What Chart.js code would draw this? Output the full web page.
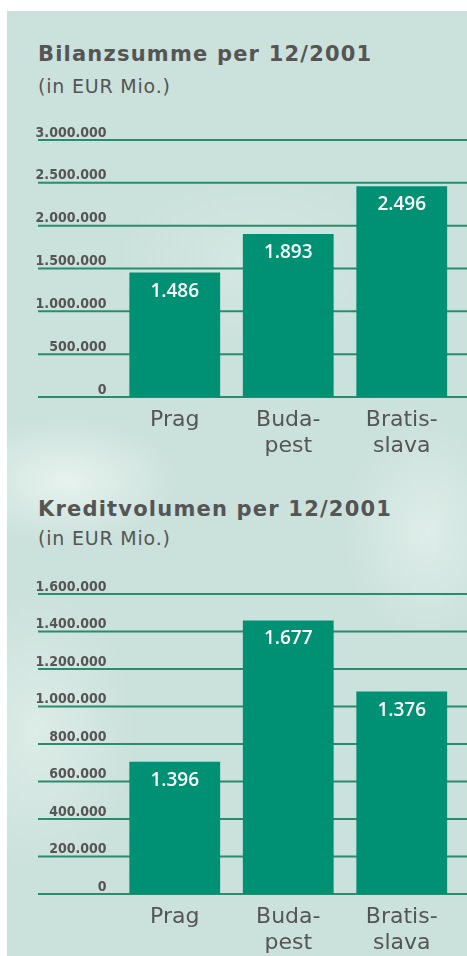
<!DOCTYPE html>
<html>
<head>
<meta charset="utf-8">
<script src="https://cdn.jsdelivr.net/npm/chart.js@4"></script>
<style>
  html, body { margin: 0; padding: 0; background: #fff; }
  body { width: 467px; height: 956px; position: relative; overflow: hidden; }
  #panel {
    position: absolute; left: 7px; top: 11px; right: 0; bottom: 0;
    background:
      radial-gradient(ellipse 160px 90px at 60px 470px, rgba(240,248,245,0.75), rgba(240,248,245,0) 70%),
      radial-gradient(ellipse 120px 160px at 420px 520px, rgba(235,245,242,0.6), rgba(235,245,242,0) 70%),
      radial-gradient(ellipse 200px 120px at 250px 250px, rgba(220,236,231,0.6), rgba(220,236,231,0) 70%),
      radial-gradient(ellipse 140px 200px at 30px 720px, rgba(232,243,239,0.6), rgba(232,243,239,0) 70%),
      #cbe1db;
  }
  .title, .sub { position: absolute; left: 38px; color: #555; white-space: nowrap; font-family: "DejaVu Sans", sans-serif; }
  .title { font-size: 21px; font-weight: bold; line-height: 24px; letter-spacing: 1.2px; }
  .sub { font-size: 19px; line-height: 22px; letter-spacing: 0.8px; }
  canvas { position: absolute; left: 0; }
</style>
</head>
<body>
<div id="panel"></div>
<div class="title" style="top:42px">Bilanzsumme per 12/2001</div>
<div class="sub" style="top:75px">(in EUR Mio.)</div>
<canvas id="bilanz" width="467" height="349" style="top:120px"></canvas>
<div class="title" style="top:497px">Kreditvolumen per 12/2001</div>
<div class="sub" style="top:527px">(in EUR Mio.)</div>
<canvas id="kredit" width="467" height="391" style="top:575px"></canvas>
<script>
// categories (two-line labels as printed)
var cities = [['Prag'], ['Buda-', 'pest'], ['Bratis-', 'slava']];

var bilanzValues = [1453000, 1903000, 2461000];
var bilanzLabels = ['1.486', '1.893', '2.496'];
var bilanzTicks = ['0', '500.000', '1.000.000', '1.500.000', '2.000.000', '2.500.000', '3.000.000'];

// Kreditvolumen
var kreditValues = [706000, 1459000, 1080000];
var kreditLabels = ['1.396', '1.677', '1.376'];
var kreditTicks = ['0', '200.000', '400.000', '600.000', '800.000', '1.000.000', '1.200.000', '1.400.000', '1.600.000'];

var barColor = '#009174';
var gridColor = '#2b8c6d';
var textColor = '#555555';

// horizontal rules + tick labels sitting on top of each rule
var gridPlugin = {
    id: 'rules',
    beforeDatasetsDraw: function(chart, args, opts) {
        var ctx = chart.ctx;
        var y = chart.scales.y;
        ctx.save();
        ctx.strokeStyle = gridColor;
        ctx.lineWidth = 2;
        ctx.fillStyle = textColor;
        ctx.font = 'bold 14px "DejaVu Sans Condensed", "DejaVu Sans", sans-serif';
        ctx.textAlign = 'right';
        ctx.textBaseline = 'alphabetic';
        y.ticks.forEach(function(t, i) {
            var py = y.getPixelForValue(t.value);
            ctx.beginPath();
            ctx.moveTo(38, py);
            ctx.lineTo(chart.width, py);
            ctx.stroke();
            ctx.fillText(opts.labels[i], 106.5, py - 3.5);
        });
        ctx.restore();
    },
    afterDatasetsDraw: function(chart, args, opts) {
        var ctx = chart.ctx;
        var meta = chart.getDatasetMeta(0);
        ctx.save();
        ctx.fillStyle = '#ffffff';
        ctx.font = '600 19px "Open Sans", sans-serif';
        ctx.textAlign = 'center';
        ctx.textBaseline = 'alphabetic';
        meta.data.forEach(function(bar, i) {
            ctx.fillText(opts.values[i], bar.x, bar.y + 24);
        });
        ctx.restore();
    }
};

function makeChart(id, values, labels, ticks, max, step, padTop) {
    var ctx = document.getElementById(id).getContext('2d');
    return new Chart(ctx, {
        type: 'bar',
        data: {
            labels: cities,
            datasets: [{
                data: values,
                backgroundColor: barColor,
                borderWidth: 0,
                barPercentage: 0.8,
                categoryPercentage: 1.0
            }]
        },
        options: {
            responsive: false,
            animation: false,
            layout: { padding: { left: 118, right: 8.5, top: padTop, bottom: 0 } },
            plugins: {
                legend: { display: false },
                tooltip: { enabled: false },
                rules: { labels: ticks, values: labels }
            },
            scales: {
                x: {
                    grid: { display: false, drawTicks: false },
                    border: { display: false },
                    ticks: {
                        color: textColor,
                        padding: 10,
                        maxRotation: 0,
                        autoSkip: false,
                        font: { family: '"DejaVu Sans", sans-serif', size: 22, lineHeight: '26px' }
                    }
                },
                y: {
                    display: false,
                    min: 0,
                    max: max,
                    ticks: { stepSize: step }
                }
            }
        },
        plugins: [gridPlugin]
    });
}

document.addEventListener("DOMContentLoaded", function() {
    makeChart('bilanz', bilanzValues, bilanzLabels, bilanzTicks, 3000000, 500000, 20);
    makeChart('kredit', kreditValues, kreditLabels, kreditTicks, 1600000, 200000, 19);
});
</script>
</body>
</html>
